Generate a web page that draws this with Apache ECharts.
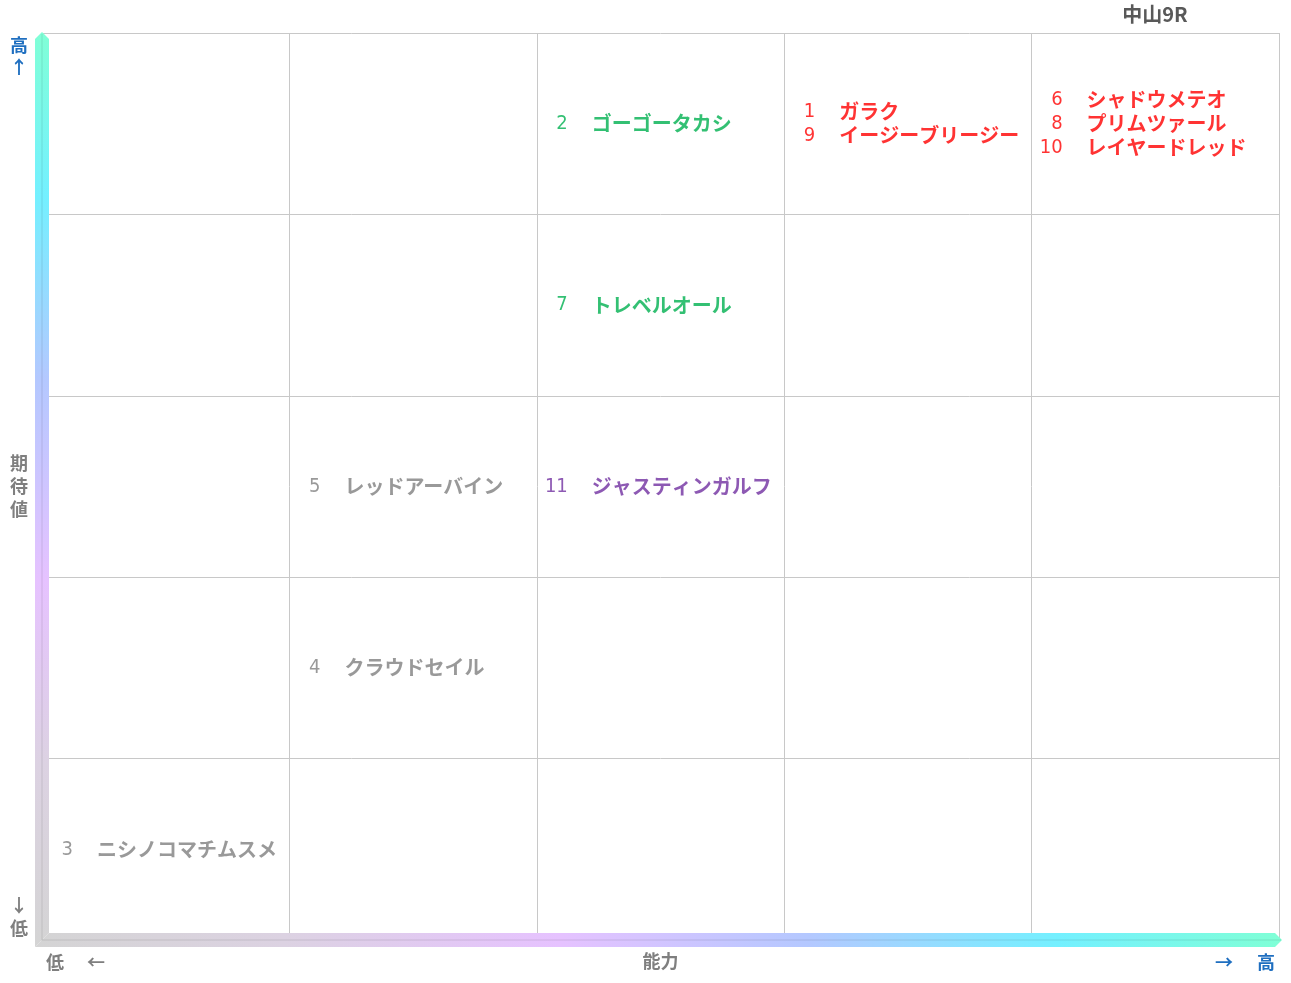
<!DOCTYPE html>
<html>
<head>
<meta charset="utf-8">
<script src="https://cdn.jsdelivr.net/npm/echarts@6/dist/echarts.min.js"></script>
<style>html,body{margin:0;padding:0;background:#fff;}#c{width:1291px;height:983px;}</style>
</head>
<body>
<div id="c"></div>
<script>
// ---- data ----
const chartTitle = '中山9R';
const xAxisName = '能力';
const yAxisName = '期待値';
const horseNumbers = [1, 2, 3, 4, 5, 6, 7, 8, 9, 10, 11];
const horseNames = ['ガラク', 'ゴーゴータカシ', 'ニシノコマチムスメ', 'クラウドセイル', 'レッドアーバイン', 'シャドウメテオ', 'トレベルオール', 'プリムツァール', 'イージーブリージー', 'レイヤードレッド', 'ジャスティンガルフ'];
const abilityCol = [4, 3, 1, 2, 2, 5, 3, 5, 4, 5, 3];   // 1 = low .. 5 = high
const expectRow  = [5, 5, 1, 2, 3, 5, 4, 5, 5, 5, 3];   // 1 = low .. 5 = high
const colorKey   = ['red', 'green', 'grey', 'grey', 'grey', 'red', 'green', 'red', 'red', 'red', 'purple'];
const palette = { red: '#ff0000', green: '#00b050', grey: '#7f7f7f', purple: '#7030a0' };

// ---- build cells ----
const cells = {};
horseNumbers.forEach((n, i) => {
  const k = abilityCol[i] + '_' + expectRow[i];
  (cells[k] = cells[k] || { col: abilityCol[i], row: expectRow[i], items: [] }).items.push(i);
});
const cellList = Object.values(cells);
const numData = cellList.map(c => ({
  value: [c.col - 1, c.row - 0.5],
  label: { formatter: c.items.map(i => horseNumbers[i]).join('\n'), color: palette[colorKey[c.items[0]]] }
}));
const nameData = cellList.map(c => ({
  value: [c.col - 1, c.row - 0.5],
  label: { formatter: c.items.map(i => horseNames[i]).join('\n'), color: palette[colorKey[c.items[0]]] }
}));

const G = { left: 42, top: 33, right: 12, bottom: 43 };
const W = 1291, H = 983;
const x0 = G.left, x1 = W - G.right, y0 = G.top, y1 = H - G.bottom;

const chart = echarts.init(document.getElementById('c'));
const vGrad = new echarts.graphic.LinearGradient(0, 0, 0, 1, [
  { offset: 0, color: '#80ffd6' }, { offset: 0.18, color: '#74f0ff' }, { offset: 0.38, color: '#b4c8ff' },
  { offset: 0.6, color: '#e6c2ff' }, { offset: 0.8, color: '#dcd2e2' }, { offset: 1, color: '#d4d4d4' }]);
const hGrad = new echarts.graphic.LinearGradient(0, 0, 1, 0, [
  { offset: 0, color: '#d4d4d4' }, { offset: 0.2, color: '#dcd2e2' }, { offset: 0.42, color: '#e6c2ff' },
  { offset: 0.62, color: '#b4c8ff' }, { offset: 0.82, color: '#74f0ff' }, { offset: 1, color: '#80ffd6' }]);
const hw = 7;
const txt = (x, y, t, color, size) => ({ type: 'text', x, y, z: 110,
  style: { text: t, fill: color, font: 'bold ' + (size || 18) + 'px "Noto Sans CJK JP", sans-serif', align: 'center', verticalAlign: 'middle' } });

chart.setOption({
  animation: false,
  grid: { left: G.left, top: G.top, right: G.right, bottom: G.bottom, containLabel: false },
  xAxis: {
    type: 'value', min: 0, max: 5, interval: 1,
    name: xAxisName, nameLocation: 'middle', nameGap: 12,
    nameTextStyle: { color: '#7f7f7f', fontSize: 18, fontWeight: 'bold', verticalAlign: 'top', fontFamily: '"Noto Sans CJK JP",sans-serif' },
    axisLine: { show: false }, axisTick: { show: false }, axisLabel: { show: false },
    splitLine: { show: true, lineStyle: { color: '#c8c8c8', width: 1 } }
  },
  yAxis: {
    type: 'value', min: 0, max: 5, interval: 1,
    name: yAxisName.split('').join('\n'), nameLocation: 'middle', nameGap: 23, nameRotate: 0,
    nameTextStyle: { color: '#7f7f7f', fontSize: 18, fontWeight: 'bold', lineHeight: 23, align: 'center', fontFamily: '"Noto Sans CJK JP",sans-serif' },
    axisLine: { show: false }, axisTick: { show: false }, axisLabel: { show: false },
    splitLine: { show: true, lineStyle: { color: '#c8c8c8', width: 1 } }
  },
  series: [{
    type: 'scatter', symbolSize: 0, data: numData, z: 20,
    label: { show: true, position: 'right', distance: 0, offset: [31, 0], align: 'right', verticalAlign: 'middle',
      fontSize: 20, lineHeight: 24, fontFamily: '"DejaVu Sans Condensed","Liberation Sans Narrow","Noto Sans",sans-serif' }
  }, {
    type: 'scatter', symbolSize: 0, data: nameData, z: 20,
    label: { show: true, position: 'right', distance: 0, offset: [55, 0], align: 'left', verticalAlign: 'middle',
      fontSize: 20, lineHeight: 24, fontWeight: 'bold', fontFamily: '"Noto Sans CJK JP",sans-serif' }
  }],
  graphic: [
    { type: 'polygon', z: 100, shape: { points: [[x0 - hw, y1 + hw], [x0 - hw, y0 + 6], [x0, y0 - 1], [x0 + hw, y0 + 6], [x0 + hw, y1 - hw]] }, style: { fill: vGrad } },
    { type: 'polygon', z: 100, shape: { points: [[x0 - hw, y1 + hw], [x0 + hw, y1 - hw], [x1 - 4, y1 - hw], [x1 + 3, y1], [x1 - 4, y1 + hw]] }, style: { fill: hGrad } },
    { type: 'polyline', z: 101, shape: { points: [[x0, y0 + 1], [x0, y1], [x1 + 2, y1]] }, style: { stroke: 'rgba(0,0,0,0.07)', lineWidth: 1.5, fill: null } },
    txt(1155, 14, chartTitle, '#595959', 20),
    txt(19, 45, '高', '#1f6fc0'), txt(19, 67, '↑', '#1f6fc0'),
    txt(19, 905, '↓', '#7f7f7f'), txt(19, 928, '低', '#7f7f7f'),
    txt(55, 962, '低', '#7f7f7f'), txt(96, 962, '←', '#7f7f7f'),
    txt(1224, 962, '→', '#1f6fc0'), txt(1266, 962, '高', '#1f6fc0')
  ]
});
</script>
</body>
</html>
